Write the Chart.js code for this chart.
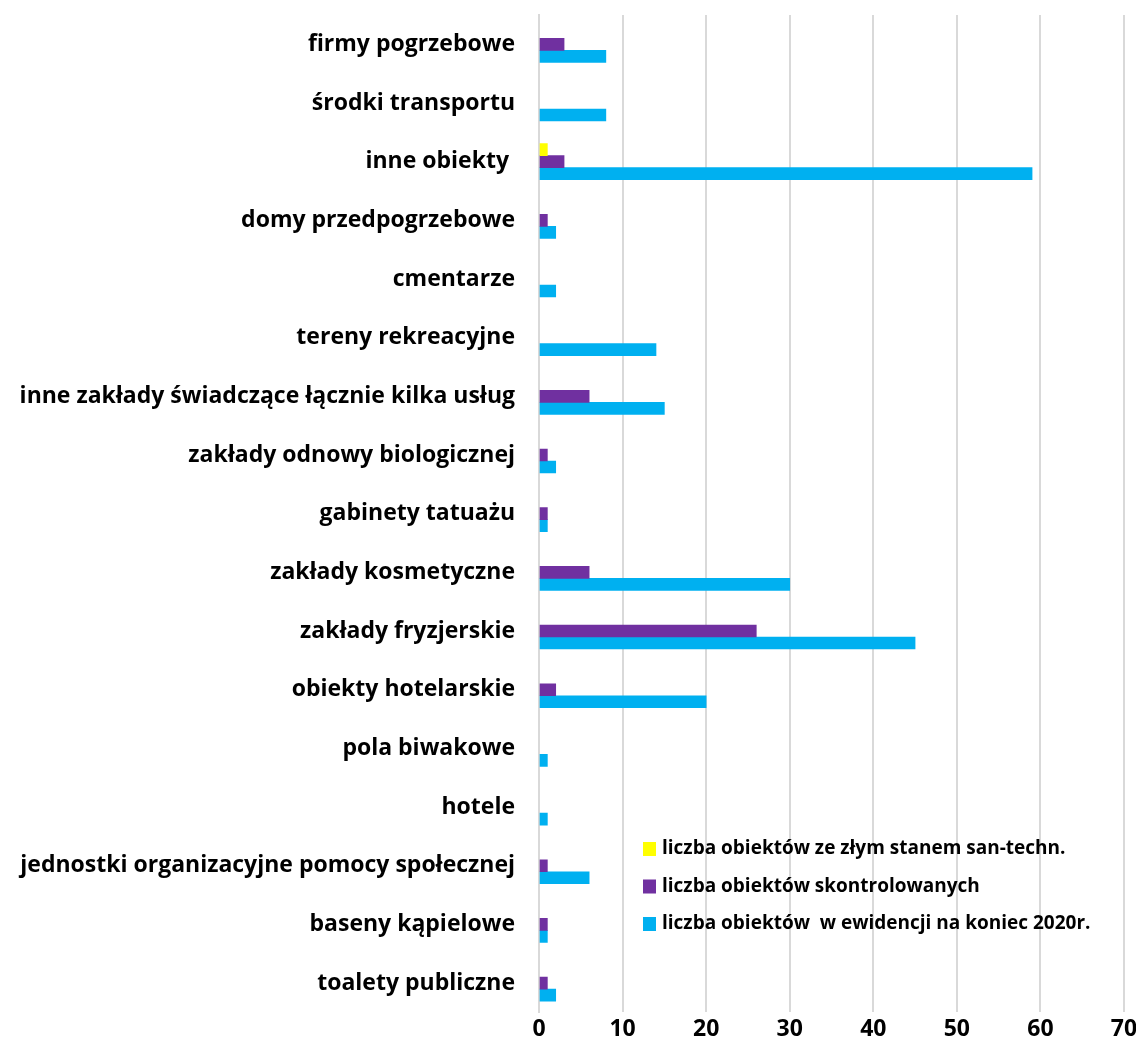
<!DOCTYPE html>
<html>
<head>
<meta charset="utf-8">
<script src="https://cdn.jsdelivr.net/npm/chart.js@4.4.1/dist/chart.umd.min.js"></script>
<style>
  html, body { margin: 0; padding: 0; background: #fff; }
  #wrap { width: 1136px; height: 1052px; }
</style>
</head>
<body>
<div id="wrap"><canvas id="chart"></canvas></div>
<script>
// ── data ──
const categories = [
  'firmy pogrzebowe', 'środki transportu', 'inne obiekty ', 'domy przedpogrzebowe',
  'cmentarze', 'tereny rekreacyjne', 'inne zakłady świadczące łącznie kilka usług',
  'zakłady odnowy biologicznej', 'gabinety tatuażu', 'zakłady kosmetyczne',
  'zakłady fryzjerskie', 'obiekty hotelarskie', 'pola biwakowe', 'hotele',
  'jednostki organizacyjne pomocy społecznej', 'baseny kąpielowe', 'toalety publiczne'
];
const badState   = [null, null, 1, null, null, null, null, null, null, null, null, null, null, null, null, null, null];
const controlled = [3, null, 3, 1, null, null, 6, 1, 1, 6, 26, 2, null, null, 1, 1, 1];
const registered = [8, 8, 59, 2, 2, 14, 15, 2, 1, 30, 45, 20, 1, 1, 6, 1, 2];
const xTicks = [0, 10, 20, 30, 40, 50, 60, 70];

const FONT = '"Open Sans", sans-serif';

// legend drawn inside the plot, bottom right
const innerLegend = {
  id: 'innerLegend',
  afterDraw(chart) {
    const c = chart.ctx;
    c.save();
    c.font = 'bold 19px ' + FONT;
    c.textBaseline = 'middle';
    chart.data.datasets.forEach((ds, i) => {
      const y = 849 + i * 37.5;
      c.fillStyle = ds.backgroundColor;
      c.fillRect(643, y - 7, 13, 14);
      c.fillStyle = '#000';
      c.fillText(ds.label, 662, y);
    });
    c.restore();
  }
};

new Chart(document.getElementById('chart'), {
  type: 'bar',
  data: {
    labels: categories,
    datasets: [
      { label: 'liczba obiektów ze złym stanem san-techn.', data: badState, backgroundColor: '#FFFF00' },
      { label: 'liczba obiektów skontrolowanych', data: controlled, backgroundColor: '#7030A0' },
      { label: 'liczba obiektów  w ewidencji na koniec 2020r.', data: registered, backgroundColor: '#00B0F0' },
    ],
  },
  options: {
    indexAxis: 'y',
    responsive: true, maintainAspectRatio: false,
    animation: false,
    barThickness: 12,
    layout: { padding: { top: 15, right: 12, bottom: 6, left: 0 } },
    plugins: { legend: { display: false }, tooltip: { enabled: false } },
    scales: {
      x: {
        min: 0, max: 70,
        afterBuildTicks: s => { s.ticks = xTicks.map(v => ({ value: v })); },
        afterFit: s => { s.paddingLeft = 0; s.paddingRight = 0; },
        grid: { color: '#d9d9d9', lineWidth: 2, drawTicks: false },
        border: { display: false },
        ticks: { color: '#000', padding: 3, font: { family: FONT, size: 23, weight: 'bold' } },
      },
      y: {
        afterFit: s => { s.width = 539; s.paddingTop = 0; s.paddingBottom = 0; },
        grid: { display: false },
        border: { display: true, color: '#d9d9d9', width: 2 },
        ticks: { color: '#000', padding: 16, autoSkip: false, font: { family: FONT, size: 23, weight: 'bold' } },
      },
    },
  },
  plugins: [innerLegend],
});
</script>
</body>
</html>
